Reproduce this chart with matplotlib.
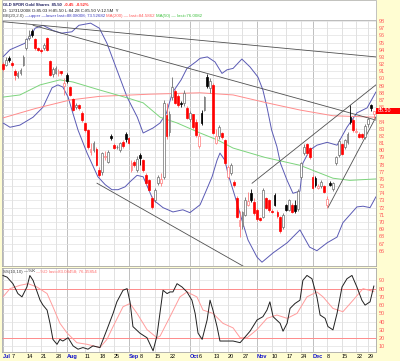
import matplotlib
matplotlib.use("Agg")
import matplotlib.pyplot as plt
from matplotlib.patches import Rectangle

FONT = ['Liberation Sans', 'DejaVu Sans']
plt.rcParams['font.family'] = FONT

# ---------------- data (daily GLD candles, Jul 1 - Dec 31 2008, index = trading day) ----------------
opens = [92.0, 91.9, 92.8, 92.2, 91.0, 90.4, 90.7, 91.9, 94.2, 95.6, 96.6, 95.5, 94.2, 94.0, 94.2, 95.6,
         92.4, 90.6, 90.8, 90.7, 91.0, 88.9, 90.5, 88.8, 87.1, 86.0, 86.3, 85.2, 83.8, 82.8, 79.8, 80.0,
         80.2, 77.2, 76.9, 79.0, 78.4, 82.0, 80.7, 80.4, 80.0, 81.1, 82.3, 81.7, 77.3, 78.4, 77.3, 79.3,
         78.6, 76.5, 75.8, 73.4, 73.0, 75.4, 75.5, 76.3, 84.9, 82.5, 87.4, 88.2, 87.5, 86.6, 86.6, 85.9,
         84.3, 85.0, 84.0, 80.6, 85.2, 85.6, 90.2, 88.6, 89.1, 81.0, 82.0, 82.4, 81.4, 76.3, 76.8, 75.6,
         73.4, 69.5, 69.4, 71.0, 72.4, 74.0, 72.8, 71.7, 70.5, 70.7, 73.3, 73.0, 71.6, 73.8, 71.4, 70.7,
         69.3, 72.3, 71.7, 72.4, 72.4, 71.8, 76.3, 79.6, 80.8, 80.3, 76.3, 76.1, 74.8, 75.0, 75.0, 72.3,
         75.5, 74.6, 78.2, 79.3, 80.8, 80.5, 81.2, 84.6, 84.2, 82.6, 82.3, 82.2, 81.8, 83.6, 86.3, 85.03]
highs = [92.3, 93.0, 93.1, 92.4, 91.3, 91.0, 91.4, 93.2, 95.7, 96.8, 96.9, 95.7, 94.4, 94.2, 95.0, 95.8,
         92.5, 91.6, 91.7, 91.3, 91.1, 90.0, 90.8, 89.0, 87.3, 86.6, 86.5, 85.4, 84.0, 83.0, 81.0, 81.3,
         80.4, 77.6, 79.8, 79.9, 80.0, 82.3, 81.0, 80.7, 81.2, 81.4, 82.6, 81.9, 78.6, 78.6, 79.2, 79.6,
         78.8, 76.8, 76.0, 73.6, 74.8, 76.6, 76.8, 87.0, 86.6, 85.4, 90.2, 88.5, 87.8, 86.9, 88.4, 86.2,
         85.5, 85.1, 84.3, 82.4, 85.6, 87.6, 90.6, 90.0, 89.3, 83.0, 83.5, 82.6, 81.6, 77.9, 78.2, 75.9,
         73.6, 71.5, 71.6, 73.5, 74.2, 74.6, 73.3, 71.9, 70.7, 74.8, 73.5, 73.2, 71.8, 74.0, 71.7, 70.9,
         71.2, 72.5, 73.2, 72.6, 73.0, 74.6, 78.4, 80.8, 81.0, 80.5, 76.5, 76.4, 75.3, 75.8, 75.2, 73.6,
         75.7, 75.6, 79.2, 81.6, 81.0, 81.6, 82.6, 86.3, 84.5, 83.1, 82.5, 82.4, 83.6, 84.6, 86.5, 85.50]
lows = [91.0, 91.7, 92.3, 91.6, 89.8, 90.1, 90.5, 91.7, 94.0, 95.3, 95.8, 94.0, 93.8, 93.6, 94.0, 93.8,
        90.3, 90.2, 90.6, 90.4, 90.5, 87.7, 89.3, 87.5, 85.4, 85.8, 85.6, 84.0, 82.6, 80.2, 79.3, 79.8,
        77.8, 76.2, 76.6, 78.6, 78.2, 81.4, 80.1, 80.2, 79.8, 80.3, 81.2, 80.8, 77.0, 77.6, 77.0, 78.0,
        77.0, 75.2, 74.3, 71.8, 72.8, 75.2, 75.0, 76.0, 81.5, 82.0, 87.0, 86.4, 86.0, 86.0, 86.2, 84.3,
        84.0, 83.0, 81.9, 80.3, 83.5, 85.4, 88.6, 88.0, 82.2, 80.8, 81.6, 81.6, 78.0, 76.0, 76.6, 74.9,
        70.5, 67.9, 69.0, 70.8, 72.2, 72.8, 71.0, 70.2, 70.1, 70.5, 71.8, 71.4, 71.2, 72.2, 70.6, 68.5,
        69.0, 71.5, 71.5, 71.2, 71.3, 71.6, 76.0, 79.3, 79.4, 78.8, 74.6, 74.9, 74.6, 74.8, 74.0, 71.9,
        75.0, 74.3, 78.0, 79.0, 79.3, 80.2, 80.9, 83.6, 82.6, 82.4, 81.7, 81.6, 81.6, 83.2, 85.5, 84.28]
closes = [91.3, 92.6, 92.6, 91.9, 90.5, 90.8, 91.2, 93.0, 95.5, 95.9, 96.1, 94.2, 94.0, 93.8, 94.7, 94.0,
          90.5, 91.3, 91.5, 91.1, 90.7, 89.3, 89.6, 87.7, 85.6, 86.3, 85.9, 84.2, 82.8, 80.5, 80.2, 81.0,
          78.0, 76.6, 79.6, 79.2, 79.8, 81.7, 80.3, 80.5, 81.0, 80.6, 81.5, 81.0, 78.2, 78.0, 78.8, 78.9,
          77.3, 75.4, 74.5, 72.1, 74.5, 76.3, 76.0, 86.6, 82.0, 85.0, 88.8, 86.6, 86.3, 86.4, 88.0, 84.5,
          85.2, 83.3, 82.1, 82.0, 83.8, 87.4, 88.9, 89.7, 82.4, 82.0, 83.2, 81.8, 78.2, 77.6, 77.9, 75.2,
          70.7, 70.3, 71.4, 73.0, 72.9, 73.0, 71.2, 70.4, 70.3, 74.5, 72.0, 71.7, 71.4, 72.4, 70.8, 68.7,
          71.0, 71.7, 73.0, 71.4, 71.6, 74.3, 78.2, 80.5, 79.6, 79.1, 74.8, 75.2, 75.0, 75.6, 74.2, 73.2,
          75.2, 75.4, 79.0, 81.3, 79.5, 81.4, 82.3, 83.9, 82.8, 82.7, 81.9, 81.8, 83.4, 84.3, 85.95, 85.50]

# indicator lines (trading-day index, value)
bb_upper_idx = [0, 2.4, 7.5, 10, 11, 13.7, 17, 20, 23.6, 26, 30, 33, 35.6, 39, 42.5, 46, 48, 51.4, 53.8,
                56, 58, 61, 63, 66, 67.5, 70, 72.6, 75, 76.7, 78.8, 81.8, 84.6, 87.3, 89, 90.4, 92, 93.8,
                95, 97.3, 99.3, 101.7, 102.7, 105, 107.5, 111, 114.4, 117.8, 121.2, 124.7, 127.7]
bb_upper_val = [93.0, 94.0, 94.9, 96.3, 97.0, 97.4, 96.7, 96.3, 96.5, 97.4, 97.7, 97.0, 94.9, 91.2, 87.4,
                84.6, 82.4, 83.1, 83.8, 85.2, 88.0, 89.8, 91.4, 92.3, 92.8, 93.0, 92.3, 90.7, 91.2, 91.4,
                92.7, 91.6, 90.2, 88.4, 86.0, 82.8, 80.5, 78.2, 75.8, 74.0, 74.3, 78.2, 80.0, 80.7, 81.1,
                80.7, 83.2, 85.2, 85.9, 88.1]
bb_lower_idx = [0, 2.4, 5.8, 10.3, 13.7, 16.8, 18.8, 20.5, 22.3, 23.6, 25.7, 28.8, 32.5, 35, 37.3, 39.4,
                41.8, 43.5, 45.9, 48, 51.4, 54.8, 58.2, 61.6, 64, 67.5, 69.2, 71.6, 73.3, 74.3, 76, 77,
                79.5, 81.8, 83.9, 87, 88.7, 92.5, 97.3, 101.7, 105, 107.5, 111, 114.4, 116.4, 121.2,
                123.3, 125.7, 127.7]
bb_lower_val = [83.8, 83.2, 83.5, 84.6, 86.0, 88.7, 89.1, 88.8, 87.4, 85.6, 82.8, 79.6, 76.3, 75.2, 74.5,
                74.5, 74.9, 75.6, 76.5, 76.3, 73.1, 72.0, 71.4, 71.7, 71.3, 72.4, 74.0, 76.3, 78.6, 79.6,
                78.6, 76.8, 73.5, 70.3, 67.5, 65.1, 64.4, 65.7, 67.1, 68.9, 66.5, 66.0, 67.1, 67.9, 69.9,
                72.1, 72.2, 72.0, 73.5]
ma200_idx = [0, 11, 23, 33, 50, 67.5, 78.8, 90.4, 101.7, 113, 127.7]
ma200_val = [84.5, 85.8, 87.0, 87.5, 87.8, 88.0, 87.7, 86.6, 85.6, 84.8, 84.6]
ma50_idx = [0, 5.8, 12.7, 19.5, 24, 33, 42.5, 48, 53.8, 59.6, 67.5, 73.6, 78.8, 89.7, 101.7, 113, 118.8, 127.7]
ma50_val = [87.4, 87.7, 89.1, 89.8, 89.5, 88.4, 87.3, 86.6, 84.6, 83.8, 82.4, 81.4, 80.3, 79.0, 77.9, 76.1,
            75.8, 76.0]
trend_lines = [  # (start index, start price, end index, end price)
    (0, 97.9, 127.7, 93.0),
    (10.3, 97.4, 127.7, 84.2),
    (32.2, 75.4, 82.9, 63.7),
    (85.3, 75.4, 127.7, 89.1),
    (111.3, 72.0, 127.7, 84.6),
]
stoch_k_idx = [0, 1.4, 3.4, 5.1, 6.5, 8.2, 9.2, 10.3, 12.7, 13.7, 15.1, 16.1, 17.1, 18.5, 19.5, 20.5,
               22.3, 24.0, 25.7, 27.4, 29.1, 30.8, 33.2, 35.6, 37.7, 39.0, 41.1, 42.5, 43.5, 44.5, 46.9,
               49.3, 51.4, 52.7, 54.8, 56.2, 57.2, 58.2, 59.6, 61.3, 63.0, 64.7, 65.8, 66.8, 68.2, 69.9,
               70.9, 71.9, 73.3, 74.3, 78.8, 81.2, 82.2, 84.6, 87.0, 89.0, 90.4, 91.4, 92.5, 94.9, 95.9,
               97.3, 98.3, 100.0, 101.7, 102.7, 104.1, 105.8, 107.5, 108.6, 110.3, 111.3, 113.0, 114.4,
               116.1, 117.8, 119.5, 121.2, 122.9, 124.0, 125.7, 127.0]
stoch_k_val = [95.9, 93.9, 86, 74, 70, 82, 95.9, 90, 66, 60, 54, 38, 18.5, 12.5, 18.5, 16.5,
               20.5, 10.6, 6.6, 8.6, 6.6, 10.6, 8.6, 30.4, 50, 64, 78, 80, 64, 34, 26,
               20.5, 4.6, 22.5, 78, 74, 76, 76, 86, 82, 76, 66, 50, 26, 18.5, 42,
               66, 54, 34, 16.5, 16.5, 14.5, 18.5, 28.4, 42, 46, 54, 64, 46, 38, 28.4,
               38, 56, 62, 66, 90, 96, 92, 70, 48, 44, 34, 30, 50,
               82, 92, 96, 82, 66, 60, 64, 83.1]
stoch_d_idx = [0, 2.4, 5.8, 8.6, 11.6, 15.1, 17.1, 19.5, 21.9, 25.3, 28.8, 33.2, 35.6, 37.7, 41.1, 43.5,
               45.9, 49.3, 52.7, 53.8, 57.2, 60.6, 63.0, 66.4, 68.5, 71.9, 75.3, 78.8, 81.2, 83.6, 87.0,
               90.4, 93.8, 97.3, 100.7, 104.1, 107.5, 109.6, 113.0, 116.4, 119.9, 123.3, 127.0]
stoch_d_val = [70, 80, 84, 86, 82, 74, 58, 38, 26.4, 14.5, 12.5, 8.6, 18.5, 34, 58, 62,
               50, 30.4, 20.5, 22.5, 46, 70, 76, 70, 54, 50, 38, 32.4, 20.5, 20.5, 30.4,
               44, 48, 44, 50, 70, 76, 70, 56, 52, 66, 80, 76.4]

date_label_idx = [0, 3, 8, 13, 18, 22, 28, 33, 38, 43, 47, 52, 57, 64, 67, 72, 77, 82, 87, 92, 97, 102,
                  106, 111, 116, 121, 125]
date_labels = ['Jul', '7', '14', '21', '28', 'Aug', '11', '18', '25', 'Sep', '8', '15', '22', 'Oct', '6',
               '13', '20', '27', 'Nov', '10', '17', '24', 'Dec', '8', '15', '22', '29']
price_ticks = list(range(66, 99))
stoch_ticks = [10, 20, 30, 40, 50, 60, 70, 80, 90]

# ---------------- figure ----------------
W, H = 400, 361
fig = plt.figure(figsize=(W / 100, H / 100), dpi=100)
fig.patch.set_facecolor('#FFFDD2')


def box(x0, y0, x1, y1):
    return [x0 / W, 1 - y1 / H, (x1 - x0) / W, (y1 - y0) / H]


fig.patches.append(Rectangle((2 / W, 1 - 20 / H), 374 / W, 19.5 / H, transform=fig.transFigure,
                             facecolor='white', edgecolor='#B8B8B8', lw=0.6, zorder=0))

ax = fig.add_axes(box(2, 20, 376, 266))
ax2 = fig.add_axes(box(2, 268, 376, 352))
XL = (-0.34, 127.74)

for a in (ax, ax2):
    a.set_facecolor('white')
    a.set_xlim(*XL)
    for s in a.spines.values():
        s.set_color('#A8A8A8')
        s.set_linewidth(0.6)
    for i, lab in zip(date_label_idx, date_labels):
        month = not lab.isdigit()
        a.axvline(i, color='#B4B4B4' if month else '#DCDCDC', lw=0.6, zorder=0)

# price panel
last = closes[-1]
ax.set_ylim(63.87, 98.14)
for p in price_ticks:
    ax.axhline(p, color='#E2E2E2', lw=0.5, zorder=0)
ax.yaxis.tick_right()
ax.set_yticks(price_ticks)
ax.set_yticklabels(['' if p == int(last) else str(p) for p in price_ticks])
ax.tick_params(axis='y', length=0, pad=2, labelsize=4, labelcolor='#FF5A5A')
ax.set_xticks([])

for i in range(len(closes)):
    o, h, l, c = opens[i], highs[i], lows[i], closes[i]
    prev = closes[i - 1] if i > 0 else o
    if c >= o:
        face = 'white'
        edge = '#FF7C7C' if c < prev else '#6E6E6E'
        wick = edge
    elif c < prev:
        face = edge = '#FF0000'
        wick = '#FF6A6A'
    else:
        face = edge = '#000000'
        wick = '#000000'
    ax.vlines(i, l, h, color=wick, lw=0.6, zorder=3)
    ax.bar(i, max(abs(c - o), 0.1), bottom=min(o, c), width=0.62, facecolor=face,
           edgecolor=edge, lw=0.5, zorder=4)

ax.plot(bb_upper_idx, bb_upper_val, color='#5A5AB4', lw=0.7, zorder=2)
ax.plot(bb_lower_idx, bb_lower_val, color='#5A5AB4', lw=0.7, zorder=2)
ax.plot(ma200_idx, ma200_val, color='#FF8C8C', lw=0.7, zorder=2)
ax.plot(ma50_idx, ma50_val, color='#7CD47C', lw=0.7, zorder=2)
for x0, y0, x1, y1 in trend_lines:
    ax.plot([x0, x1], [y0, y1], color='#505050', lw=0.6, zorder=2)

# last price tag
tr = ax.get_yaxis_transform()
ax.add_patch(Rectangle((1.0, last - 0.42), 0.066, 0.84, transform=tr, facecolor='#FF0000',
                       edgecolor='none', clip_on=False, zorder=5))
ax.text(1.006, last, f'{last:.2f}', transform=tr, color='white', fontsize=3.8, va='center',
        ha='left', zorder=6, clip_on=False)

# stochastic panel
ax2.set_ylim(3.2, 105.0)
for v in stoch_ticks:
    ax2.axhline(v, color='#E2E2E2', lw=0.5, zorder=0)
ax2.axhline(80, color='#FF8C8C', lw=0.7, zorder=1)
ax2.axhline(20, color='#FF8C8C', lw=0.7, zorder=1)
ax2.plot(stoch_d_idx, stoch_d_val, color='#FF9C9C', lw=0.7, zorder=2)
ax2.plot(stoch_k_idx, stoch_k_val, color='#202020', lw=0.7, zorder=3)
ax2.yaxis.tick_right()
ax2.set_yticks(stoch_ticks)
ax2.set_yticklabels([str(v) for v in stoch_ticks])
ax2.tick_params(axis='y', length=0, pad=2, labelsize=4, labelcolor='#FF5A5A')
ax2.set_xticks(date_label_idx)
ax2.set_xticklabels(date_labels)
ax2.tick_params(axis='x', length=0, pad=1.5, labelsize=4)
for t, lab in zip(ax2.get_xticklabels(), date_labels):
    t.set_horizontalalignment('left')
    t.set_color('#000000' if lab.isdigit() else '#1010CC')
    if not lab.isdigit():
        t.set_fontweight('bold')

# ---------------- header texts ----------------
renderer = fig.canvas.get_renderer()


def seq_text(x_px, y_px, segments, size, weight='normal'):
    x = x_px
    for s, col in segments:
        t = fig.text(x / W, 1 - y_px / H, s, color=col, fontsize=size, va='center', ha='left',
                     fontweight=weight, zorder=10)
        x += t.get_window_extent(renderer).width


seq_text(3, 4.5, [('GLD SPDR Gold Shares  85.50  ', '#202060'), ('-0.45  -0.52%', '#FF2020')], 3.0,
         weight='bold')
seq_text(3, 10.5, [('D: 12/31/2008 O:85.03 H:85.50 L:84.28 C:85.50 V:12.5M  Y', '#202020')], 3.2)
seq_text(3, 16.3, [('BB(20,2.0) ', '#404040'),
                   ('\u2014upper \u2014lower last=88.08008; 73.52682 ', '#4040C0'),
                   ('MA(200) \u2014 last=84.5862 ', '#FF5A5A'),
                   ('MA(50) \u2014 last=76.0082', '#40C040')], 3.2)
seq_text(3, 271.5, [('SS(10,10) ', '#404040'), ('\u2014%K ', '#202020'),
                    ('\u2014%D last=83.08458; 76.35854', '#FF6A6A')], 3.2)

fig.savefig('out.png', dpi=100, facecolor=fig.get_facecolor())
